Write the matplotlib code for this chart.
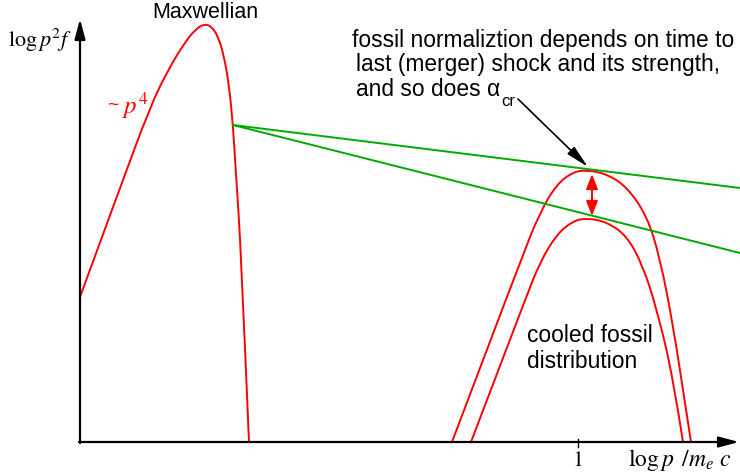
import matplotlib
matplotlib.use("Agg")
import matplotlib.pyplot as plt
from matplotlib.path import Path
from matplotlib.patches import PathPatch

plt.rcParams["mathtext.fontset"] = "stix"
plt.rcParams["font.family"] = ["Liberation Sans", "DejaVu Sans"]

# Schematic spectrum: x = log p (arbitrary units), y = log p^2 f (arbitrary units)
# Control points of each curve
maxwell_x = [0, 40, 70, 88, 105, 116, 124, 131, 138, 144, 149, 153, 156, 161, 169]
maxwell_y = [145, 254, 335, 372, 400, 413, 418, 416, 406, 386, 357, 317, 267, 192, 0]

fossil_hi_x = [372, 440, 460, 477, 493, 507, 527, 547, 567, 580, 593, 603, 611]
fossil_hi_y = [0, 180, 230, 258, 270, 272, 268, 255, 226, 184, 117, 52, 0]

fossil_lo_x = [391, 445, 460, 477, 493, 507, 527, 547, 563, 577, 593, 603]
fossil_lo_y = [0, 142, 180, 208, 221, 224, 220, 206, 176, 132, 65, 0]

# Power-law tails from the Maxwellian cut-off
slope_start = (153, 317)
slope_flat_end = (660, 254)
slope_steep_end = (660, 189)

tick_x = 498
tick_label = "1"

RED = "#ff0000"
GREEN = "#00aa00"


def smooth_path(xs, ys):
    """Quadratic B-spline style path using the given points as control points."""
    verts = [(xs[0], ys[0])]
    codes = [Path.MOVETO]
    n = len(xs)
    for i in range(1, n - 1):
        if i == n - 2:
            end = (xs[-1], ys[-1])
        else:
            end = ((xs[i] + xs[i + 1]) / 2, (ys[i] + ys[i + 1]) / 2)
        verts += [(xs[i], ys[i]), end]
        codes += [Path.CURVE3, Path.CURVE3]
    return Path(verts, codes)


fig = plt.figure(figsize=(7.4, 4.74), dpi=100)
ax = fig.add_axes([0, 0, 1, 1])
ax.set_xlim(-80, 660)
ax.set_ylim(-32, 442)
ax.axis("off")

# Axes with arrow heads
ax.annotate("", xy=(0, 423), xytext=(0, -1),
            arrowprops=dict(arrowstyle="-|>,head_length=1.2,head_width=0.32",
                            mutation_scale=10, lw=1.6, color="k",
                            shrinkA=0, shrinkB=0))
ax.annotate("", xy=(659, 0), xytext=(-1, 0),
            arrowprops=dict(arrowstyle="-|>,head_length=1.2,head_width=0.32",
                            mutation_scale=10, lw=1.6, color="k",
                            shrinkA=0, shrinkB=0))
ax.plot([tick_x, tick_x], [-5, 3], color="k", lw=1.0)

# Curves
for xs, ys in [(maxwell_x, maxwell_y), (fossil_hi_x, fossil_hi_y),
               (fossil_lo_x, fossil_lo_y)]:
    ax.add_patch(PathPatch(smooth_path(xs, ys), facecolor="none",
                           edgecolor=RED, lw=1.4))
ax.plot([slope_start[0], slope_flat_end[0]], [slope_start[1], slope_flat_end[1]],
        color=GREEN, lw=1.4)
ax.plot([slope_start[0], slope_steep_end[0]], [slope_start[1], slope_steep_end[1]],
        color=GREEN, lw=1.4)

# Double arrow between the two fossil peaks
ax.annotate("", xy=(512, 268), xytext=(512, 226),
            arrowprops=dict(arrowstyle="<|-|>,head_length=0.9,head_width=0.35",
                            mutation_scale=10, lw=1.4, color=RED,
                            shrinkA=0, shrinkB=0))

# Pointer to the upper fossil peak
ax.annotate("", xy=(508, 275), xytext=(438, 343),
            arrowprops=dict(arrowstyle="-|>,head_length=1.4,head_width=0.3",
                            mutation_scale=10, lw=1.2, color="k",
                            shrinkA=0, shrinkB=0))

# Labels
ax.text(125, 430, "Maxwellian", fontsize=15.5, ha="center", va="center")
ax.text(-72, 395, r"$\log p^2 f$", fontsize=16, ha="left", va="baseline")
ax.text(27, 337, "~", fontsize=14, color=RED, ha="left", va="center")
ax.text(42, 336, r"$p^4$", fontsize=18, color=RED, ha="left", va="center")

ax.text(272, 402, "fossil normaliztion depends on time to", fontsize=16.4,
        ha="left", va="center")
ax.text(276, 378, "last (merger) shock and its strength,", fontsize=16.4,
        ha="left", va="center")
t3 = ax.text(276, 353, "and so does α", fontsize=16.4, ha="left", va="center")
ax.annotate("cr", xy=(1.0, 0.0), xycoords=t3, xytext=(0.5, -1),
            textcoords="offset points", fontsize=12, ha="left", va="center")

ax.text(447, 106, "cooled fossil", fontsize=16.4, ha="left", va="center")
ax.text(447, 80, "distribution", fontsize=16.4, ha="left", va="center")
ax.text(tick_x, -24, tick_label, fontsize=16, ha="center", va="baseline",
        family="STIXGeneral")
ax.text(548, -24, r"$\log p\ \,/m_e\ c$", fontsize=17, ha="left", va="baseline")

fig.savefig("out.png", dpi=100)
